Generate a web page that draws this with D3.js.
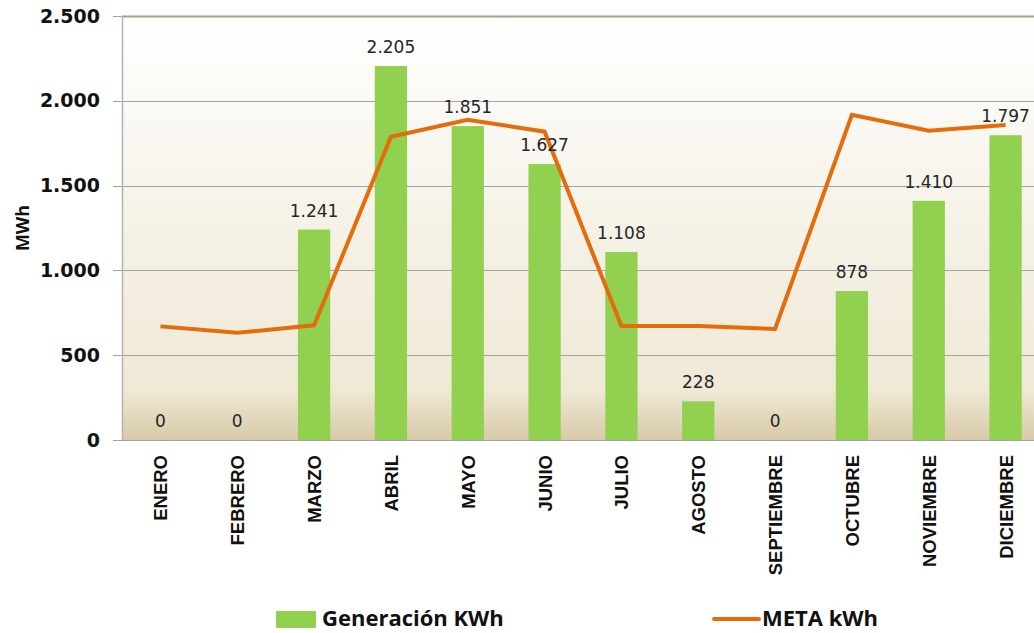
<!DOCTYPE html>
<html>
<head>
<meta charset="utf-8">
<script src="https://cdn.jsdelivr.net/npm/d3@7"></script>
<style>
  body { margin: 0; background: #fff; }
  svg { display: block; }
</style>
</head>
<body>
<div id="chart"></div>
<script>
const months = ['ENERO', 'FEBRERO', 'MARZO', 'ABRIL', 'MAYO', 'JUNIO', 'JULIO', 'AGOSTO', 'SEPTIEMBRE', 'OCTUBRE', 'NOVIEMBRE', 'DICIEMBRE'];
const generacion = [0, 0, 1241, 2205, 1851, 1627, 1108, 228, 0, 878, 1410, 1797];
const meta = [670, 632, 676, 1788, 1888, 1818, 672, 672, 655, 1918, 1824, 1858];
const yTicks = [0, 500, 1000, 1500, 2000, 2500];

const width = 1034, height = 633;
const margin = { top: 16, right: -10, bottom: 193, left: 122 };
const innerW = width - margin.left - margin.right;
const innerH = height - margin.top - margin.bottom;

const svg = d3.select('#chart').append('svg').attr('width', width).attr('height', height);

const defs = svg.append('defs');
const grad = defs.append('linearGradient').attr('id', 'bg').attr('x1', 0).attr('x2', 0).attr('y1', 0).attr('y2', 1);
grad.append('stop').attr('offset', '0%').attr('stop-color', '#ffffff');
grad.append('stop').attr('offset', '55%').attr('stop-color', '#f4f0e4');
grad.append('stop').attr('offset', '88%').attr('stop-color', '#efe9d6');
grad.append('stop').attr('offset', '100%').attr('stop-color', '#d8caa8');

const x = d3.scaleBand().domain(months).range([0, innerW]).paddingInner(0.58).paddingOuter(0.29);
const xc = d3.scalePoint().domain(months).range([0, innerW]).padding(0.5);
const y = d3.scaleLinear().domain([0, 2500]).range([innerH, 0]);
const fmt = (d) => d3.format(',')(d).replace(/,/g, '.');

const g = svg.append('g').attr('transform', `translate(${margin.left},${margin.top})`);

g.append('rect').attr('width', innerW).attr('height', innerH).attr('fill', 'url(#bg)');

// gridlines + ticks
g.selectAll('line.grid')
    .data(yTicks.slice(0, -1))
    .join('line')
    .attr('class', 'grid')
    .attr('x1', -9)
    .attr('x2', innerW)
    .attr('y1', (d) => Math.round(y(d)) + 0.5)
    .attr('y2', (d) => Math.round(y(d)) + 0.5)
    .attr('stroke', '#a3a3a3')
    .attr('stroke-width', 1.2);

g.append('line')
    .attr('x1', -9).attr('x2', 0)
    .attr('y1', y(2500) + 0.5).attr('y2', y(2500) + 0.5)
    .attr('stroke', '#a3a3a3');

g.append('line')
    .attr('x1', 0).attr('x2', innerW)
    .attr('y1', y(2500) + 0.5).attr('y2', y(2500) + 0.5)
    .attr('stroke', '#9ba487')
    .attr('stroke-width', 2);

g.append('line')
    .attr('x1', 0.5).attr('x2', 0.5)
    .attr('y1', 0).attr('y2', innerH)
    .attr('stroke', '#b3b3b3')
    .attr('stroke-width', 1.5);

g.selectAll('text.ytick')
    .data(yTicks)
    .join('text')
    .attr('class', 'ytick')
    .attr('x', -22)
    .attr('y', (d) => y(d))
    .attr('dy', '0.35em')
    .attr('text-anchor', 'end')
    .style('font-family', 'DejaVu Sans, sans-serif')
    .style('font-weight', 'bold')
    .style('font-size', '19px')
    .attr('fill', '#111')
    .text(fmt);

// bars
g.selectAll('rect.bar')
    .data(generacion)
    .join('rect')
    .attr('class', 'bar')
    .attr('x', (d, i) => x(months[i]))
    .attr('width', x.bandwidth())
    .attr('y', (d) => y(d))
    .attr('height', (d) => innerH - y(d))
    .attr('fill', '#92d050');

// meta line
g.append('path')
    .datum(meta)
    .attr('fill', 'none')
    .attr('stroke', '#e46c0a')
    .attr('stroke-width', 4)
    .attr('stroke-linejoin', 'miter')
    .attr('d', d3.line().x((d, i) => xc(months[i])).y((d) => y(d)));

// value labels
g.selectAll('text.val')
    .data(generacion)
    .join('text')
    .attr('class', 'val')
    .attr('x', (d, i) => xc(months[i]))
    .attr('y', (d) => y(d) - 13)
    .attr('text-anchor', 'middle')
    .style('font-family', 'DejaVu Sans, sans-serif')
    .style('font-size', '17px')
    .attr('fill', '#262626')
    .text(fmt);

// month labels
g.selectAll('text.month')
    .data(months)
    .join('text')
    .attr('class', 'month')
    .attr('transform', (d) => `translate(${xc(d) + 7},${innerH + 15}) rotate(-90)`)
    .attr('text-anchor', 'end')
    .style('font-family', 'Liberation Sans, Arial, sans-serif')
    .style('font-weight', 'bold')
    .style('font-size', '18.5px')
    .attr('fill', '#111')
    .text((d) => d);

// y axis title
svg.append('text')
    .attr('transform', 'translate(29,228) rotate(-90)')
    .attr('text-anchor', 'middle')
    .style('font-family', 'Open Sans, sans-serif')
    .style('font-weight', 'bold')
    .style('font-size', '18px')
    .attr('fill', '#111')
    .text('MWh');

// legend
const legend = svg.append('g').attr('transform', 'translate(0,618)');
legend.append('rect').attr('x', 276).attr('y', -7).attr('width', 40).attr('height', 17).attr('fill', '#92d050');
legend.append('text')
    .attr('x', 322).attr('y', 0).attr('dy', '0.35em')
    .style('font-family', 'Open Sans, sans-serif')
    .style('font-weight', 'bold')
    .style('font-size', '22px')
    .attr('fill', '#111')
    .text('Generación KWh');
legend.append('line')
    .attr('x1', 714).attr('x2', 759).attr('y1', 1).attr('y2', 1)
    .attr('stroke', '#e46c0a').attr('stroke-width', 4).attr('stroke-linecap', 'round');
legend.append('text')
    .attr('x', 762).attr('y', 0).attr('dy', '0.35em')
    .style('font-family', 'Open Sans, sans-serif')
    .style('font-weight', 'bold')
    .style('font-size', '22px')
    .attr('fill', '#111')
    .text('META kWh');
</script>
</body>
</html>
